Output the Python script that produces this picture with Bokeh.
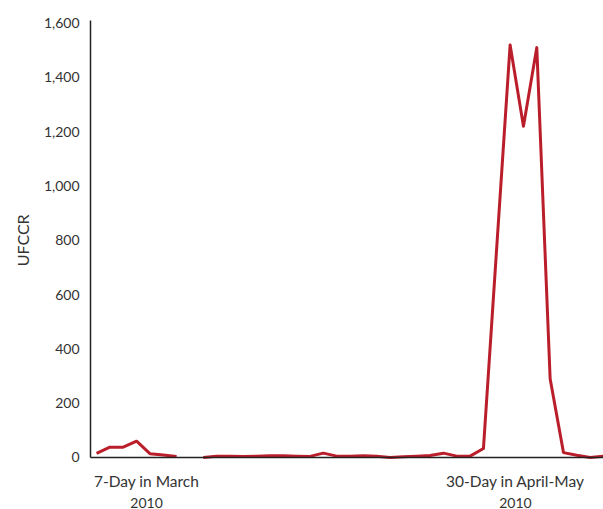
import math
from bokeh.plotting import figure
from bokeh.models import Range1d, FixedTicker, NumeralTickFormatter, Label
from bokeh.embed import file_html
from bokeh.resources import INLINE

# ---- data ----
# day index along the x axis (7-day window, one-day gap, then 30-day window)
days_march = [0, 1, 2, 3, 4, 5, 6]
ufccr_march = [15, 38, 38, 60, 14, 9, 4]

days_aprmay = [8, 9, 10, 11, 12, 13, 14, 15, 16, 17, 18, 19, 20, 21, 22, 23, 24,
               25, 26, 27, 28, 29, 31, 32, 33, 34, 35, 36, 37, 38]
ufccr_aprmay = [0, 5, 5, 4, 5, 6, 6, 5, 4, 16, 5, 5, 6, 5, 0, 3, 5,
                7, 16, 5, 5, 33, 1520, 1220, 1510, 290, 18, 8, 0, 5]

y_ticks = [0, 200, 400, 600, 800, 1000, 1200, 1400, 1600]
period_centres = [3.75, 31.4]
period_names = ["7-Day in March", "30-Day in April-May"]
period_years = ["2010", "2010"]
y_title = "UFCCR"

FONT = "Lato"
TEXT = "#333333"
RED = "#BB1E2B"
AXIS = "#222222"

X_LO, X_HI = -0.45, 38.0     # extent of the drawn x axis
Y_LO, Y_HI = 0, 1610         # extent of the drawn y axis

# the frame fills the canvas; both axes are fixed inside it so every text can be drawn
p = figure(width=603, height=509, output_backend="svg", toolbar_location=None,
           x_range=Range1d(-7.2, X_HI), y_range=Range1d(-191.6, 1683.6),
           min_border_left=0, min_border_right=0, min_border_top=0,
           min_border_bottom=0)
p.outline_line_color = None
p.grid.grid_line_color = None
p.background_fill_color = "white"
p.border_fill_color = "white"

p.line(days_march, ufccr_march, line_color=RED, line_width=3, line_join="round")
p.line(days_aprmay, ufccr_aprmay, line_color=RED, line_width=3, line_join="round")

# y axis
ya = p.yaxis[0]
ya.fixed_location = X_LO
ya.bounds = (Y_LO, Y_HI)
ya.ticker = FixedTicker(ticks=y_ticks)
ya.formatter = NumeralTickFormatter(format="0,0")
ya.major_label_text_font = FONT
ya.major_label_text_font_size = "14px"
ya.major_label_text_color = TEXT
ya.major_label_standoff = 11
ya.major_tick_line_color = None
ya.major_tick_out = 0
ya.major_tick_in = 0
ya.minor_tick_line_color = None
ya.minor_tick_out = 0
ya.axis_line_color = AXIS
ya.axis_line_width = 1.5

# x axis (line only)
xa = p.xaxis[0]
xa.fixed_location = 0
xa.bounds = (X_LO, X_HI)
xa.ticker = FixedTicker(ticks=[])
xa.major_tick_line_color = None
xa.major_tick_out = 0
xa.minor_tick_line_color = None
xa.minor_tick_out = 0
xa.major_label_text_font_size = "0px"
xa.axis_line_color = AXIS
xa.axis_line_width = 1.5

# y axis title, centred on the middle of the 0-1600 scale
p.add_layout(Label(x=22, x_units="screen", y=(y_ticks[0] + y_ticks[-1]) / 2,
                   text=y_title, angle=math.pi / 2,
                   text_font=FONT, text_font_size="16px", text_color=TEXT,
                   text_align="center", text_baseline="middle"))

for xc, name, year in zip(period_centres, period_names, period_years):
    p.add_layout(Label(x=xc, y=29, y_units="screen", text=name,
                       text_font=FONT, text_font_size="15.5px", text_color=TEXT,
                       text_align="center", text_baseline="middle"))
    p.add_layout(Label(x=xc, y=7, y_units="screen", text=year,
                       text_font=FONT, text_font_size="14px", text_color=TEXT,
                       text_align="center", text_baseline="middle"))

open("out.html", "w").write(file_html(p, INLINE))
